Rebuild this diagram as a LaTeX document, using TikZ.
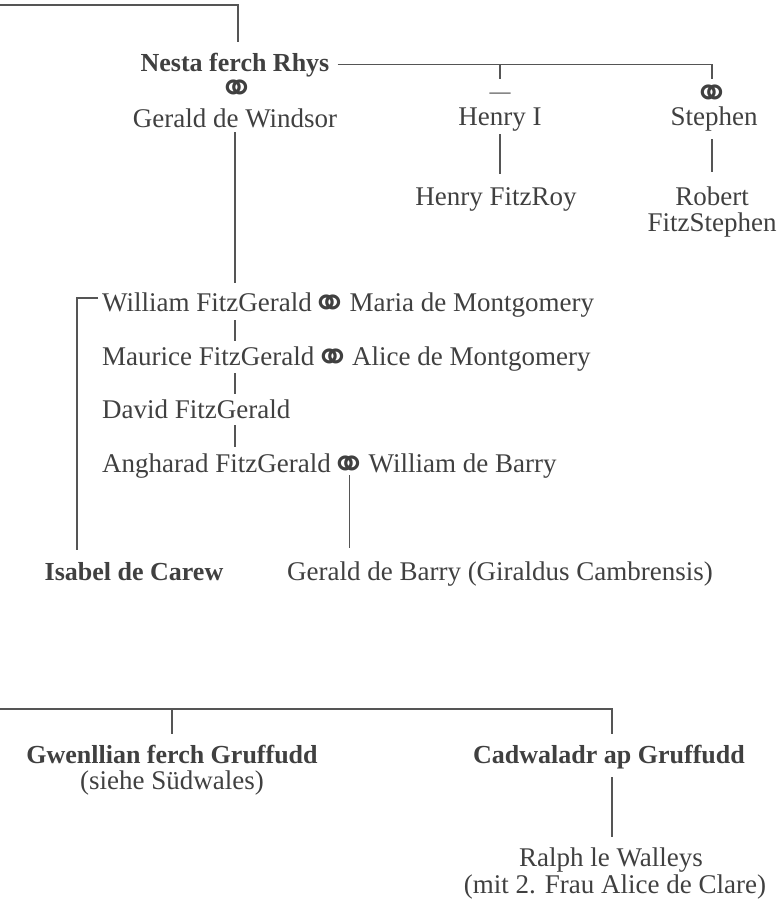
\documentclass[tikz,border=0pt]{standalone}
\usepackage{fontspec}
\setmainfont{Liberation Serif}
\newfontfamily\ringfont{DejaVu Sans}
\definecolor{ink}{HTML}{404040}
\definecolor{wirec}{HTML}{555555}
\newcommand{\ringsym}{\makebox[20pt][c]{\raisebox{-17pt}{⚭}}}
\begin{document}
\begin{tikzpicture}[x=1pt,y=1pt,
  p/.style={inner sep=0pt, text height=18pt, text depth=5pt, text=ink, font=\fontsize{27}{28}\selectfont},
  pb/.style={p, font=\fontsize{26}{28}\selectfont\bfseries},
  ring/.style={inner sep=0pt, text height=6pt, text depth=6pt, text=ink, font=\ringfont\bfseries\fontsize{44}{44}\selectfont},
  dashsym/.style={inner sep=0pt, text=ink, font=\fontsize{21}{21}\selectfont},
  wire/.style={draw=wirec, line width=1.2pt},
]
\useasboundingbox (0,0) rectangle (779,-902);
% top generation
\node[pb, anchor=base] (nesta) at (235,-71) {Nesta ferch Rhys};
\node[ring] (nring) at (237,-86) {\ringsym};
\node[p, anchor=base] (gerald) at (235,-127) {Gerald de Windsor};
\node[dashsym] (hdash) at (500,-96) {—};
\node[p, anchor=base] (henry) at (500,-125) {Henry I};
\node[ring] (sring) at (712,-91) {\ringsym};
\node[p, anchor=base] (stephen) at (714,-125) {Stephen};
\node[p, anchor=base] (fitzroy) at (496,-205) {Henry FitzRoy};
\node[p, anchor=base] (robert) at (712,-205) {Robert};
\node[p, anchor=base] (robert2) at (712,-231) {FitzStephen};
% FitzGerald line
\node[p, anchor=base west] (will) at (102,-311) {William FitzGerald};
\node[ring, anchor=west] (wring) at ([xshift=8pt, yshift=10pt]will.base east) {\ringsym};
\node[p, anchor=base west] (maria) at ([xshift=9pt]wring.east |- will.base) {Maria de Montgomery};
\node[p, anchor=base west] (maur) at (102,-365) {Maurice FitzGerald};
\node[ring, anchor=west] (mring) at ([xshift=8pt, yshift=10pt]maur.base east) {\ringsym};
\node[p, anchor=base west] (alice) at ([xshift=9pt]mring.east |- maur.base) {Alice de Montgomery};
\node[p, anchor=base west] (david) at (102,-418) {David FitzGerald};
\node[p, anchor=base west] (angh) at (102,-472) {Angharad FitzGerald};
\node[ring, anchor=west] (aring) at ([xshift=8pt, yshift=10pt]angh.base east) {\ringsym};
\node[p, anchor=base west] (wbarry) at ([xshift=9pt]aring.east |- angh.base) {William de Barry};
\node[pb, anchor=base] (isabel) at (134,-580) {Isabel de Carew};
\node[p, anchor=base] (gbarry) at (500,-580) {Gerald de Barry (Giraldus Cambrensis)};
% bottom
\node[pb, anchor=base] (gwen) at (172,-763) {Gwenllian ferch Gruffudd};
\node[p, anchor=base] (gwensub) at (172,-789) {(siehe Südwales)};
\node[pb, anchor=base] (cadw) at (609,-763) {Cadwaladr ap Gruffudd};
\node[p, anchor=base] (ralph) at (611,-866) {Ralph le Walleys};
\node[p, anchor=base] (ralphsub) at (615,-893) {(mit 2. Frau Alice de Clare)};
% coordinates
\coordinate (top) at (0,-5);
\coordinate (ic) at (77,-298);
\coordinate (bl) at (0,-709);
% connectors
\draw[wire, shorten >=11pt] (top) -| ([xshift=3pt]nesta.north);
\draw[wire, shorten >=12pt] ([xshift=8pt]nesta.east) -| (sring.center);
\draw[wire, shorten >=17pt] (hdash.center |- nesta.east) -- (hdash.center);
\draw[wire, shorten >=10pt] (gerald.south) -- (gerald.south |- will.north);
\draw[wire, shorten <=4pt, shorten >=13pt] (henry.south) -- (henry.south |- fitzroy.north);
\draw[wire, shorten <=9pt, shorten >=15pt] (sring.center |- stephen.south) -- (sring.center |- robert.north);
\draw[wire, shorten <=4pt, shorten >=6pt] (gerald.south |- will.south) -- (gerald.south |- maur.north);
\draw[wire, shorten <=3pt, shorten >=6pt] (gerald.south |- maur.south) -- (gerald.south |- david.north);
\draw[wire, shorten <=2pt, shorten >=7pt] (gerald.south |- david.south) -- (gerald.south |- angh.north);
\draw[wire, shorten <=13pt, shorten >=14pt] (aring.center) -- (aring.center |- gbarry.north);
\draw[wire, shorten >=12pt] ([xshift=-4pt]will.west |- ic) -- (ic) -- (ic |- isabel.north);
\draw[wire, shorten >=11pt] (bl) -| ([xshift=3pt]cadw.north);
\draw[wire, shorten >=11pt] (gwen.north |- bl) -- (gwen.north);
\draw[wire, shorten <=9pt, shorten >=11pt] ([xshift=3pt]cadw.south) -- ([xshift=3pt]cadw.south |- ralph.north);
\end{tikzpicture}
\end{document}
